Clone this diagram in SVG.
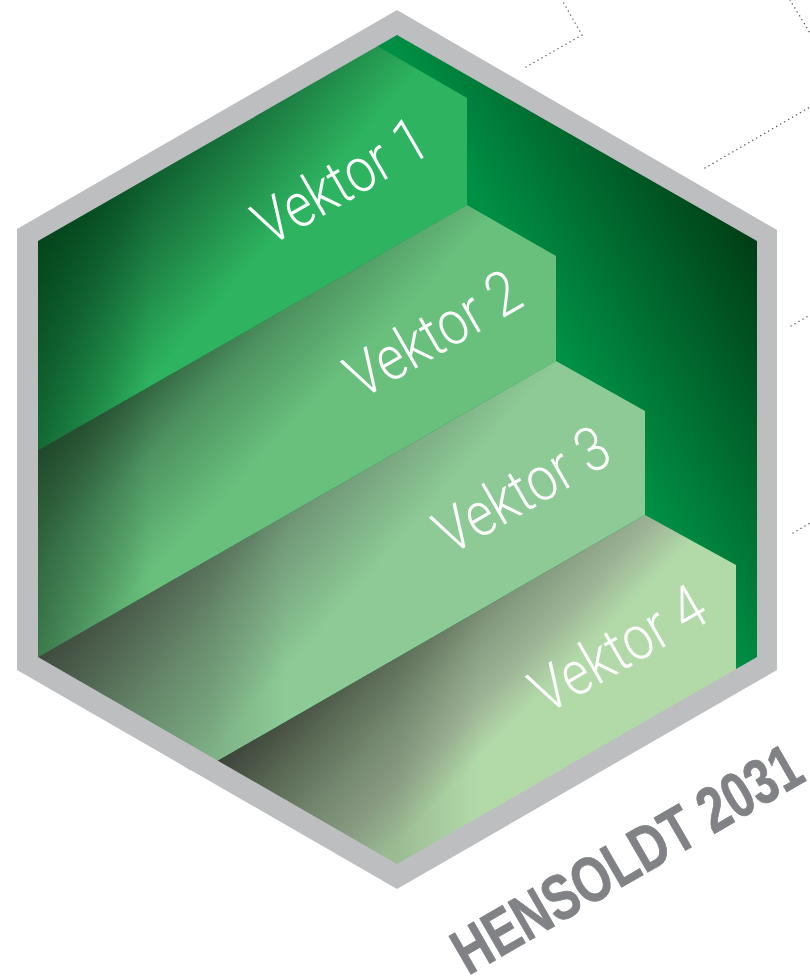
<svg xmlns="http://www.w3.org/2000/svg" width="810" height="980" viewBox="0 0 810 980">
<style>
.lab{font-family:"Roboto","Liberation Sans",sans-serif;font-weight:300;font-size:62px;fill:#fff}
.brand{font-family:"Liberation Sans",sans-serif;font-weight:700;font-size:64px;fill:#808285;stroke:#808285;stroke-width:.8}
.dot{fill:none;stroke:#58595b;stroke-width:1.4;stroke-dasharray:.1 4.5;stroke-linecap:round}
</style>
<defs>
<linearGradient id="gb" gradientUnits="userSpaceOnUse" x1="530" y1="295" x2="727" y2="187"><stop offset="0" stop-color="#009045"/><stop offset="1" stop-color="#003d14"/></linearGradient>
<linearGradient id="g1" gradientUnits="userSpaceOnUse" x1="38" y1="241" x2="173" y2="357"><stop offset="0" stop-color="#03441c"/><stop offset=".5" stop-color="#1b7a40"/><stop offset="1" stop-color="#2eb460"/></linearGradient>
<linearGradient id="g2" gradientUnits="userSpaceOnUse" x1="38" y1="450" x2="159" y2="566"><stop offset="0" stop-color="#22452a"/><stop offset=".5" stop-color="#4d9260"/><stop offset="1" stop-color="#69c07d"/></linearGradient>
<linearGradient id="g3" gradientUnits="userSpaceOnUse" x1="38" y1="657" x2="185" y2="786"><stop offset="0" stop-color="#3f4a3e"/><stop offset=".55" stop-color="#729a78"/><stop offset="1" stop-color="#8dca96"/></linearGradient>
<linearGradient id="g4" gradientUnits="userSpaceOnUse" x1="219" y1="760" x2="352" y2="890"><stop offset="0" stop-color="#3c433a"/><stop offset=".3" stop-color="#66785f"/><stop offset=".55" stop-color="#869c80"/><stop offset=".78" stop-color="#9eb496"/><stop offset="1" stop-color="#b2daa9"/></linearGradient>
<linearGradient id="o1" gradientUnits="userSpaceOnUse" x1="38" y1="0" x2="150" y2="0"><stop offset="0" stop-color="#03441c" stop-opacity=".55"/><stop offset="1" stop-color="#03441c" stop-opacity="0"/></linearGradient>
<linearGradient id="o2" gradientUnits="userSpaceOnUse" x1="38" y1="0" x2="150" y2="0"><stop offset="0" stop-color="#1f4a2b" stop-opacity=".55"/><stop offset="1" stop-color="#1f4a2b" stop-opacity="0"/></linearGradient>
<linearGradient id="o3" gradientUnits="userSpaceOnUse" x1="38" y1="0" x2="285" y2="0"><stop offset="0" stop-color="#3f4a3e" stop-opacity=".35"/><stop offset=".7" stop-color="#3f4a3e" stop-opacity=".2"/><stop offset="1" stop-color="#3f4a3e" stop-opacity="0"/></linearGradient>
<linearGradient id="o4" gradientUnits="userSpaceOnUse" x1="219" y1="0" x2="480" y2="0"><stop offset="0" stop-color="#3c433a" stop-opacity=".3"/><stop offset=".68" stop-color="#3c433a" stop-opacity=".2"/><stop offset="1" stop-color="#3c433a" stop-opacity="0"/></linearGradient>
<polygon id="s1" points="360,36 467,98 467,205 28,456 28,236"/>
<polygon id="s2" points="467,205 556,256 556,361 28,663 28,456"/>
<polygon id="s3" points="556,361 645,411 645,515 200,771 190,770 28,663"/>
<polygon id="s4" points="645,515 736,565 736,675 397,880 200,771"/>
</defs>
<polygon id="back" points="397,20 770,241 770,670 397,880 25,670 25,241" fill="url(#gb)"/>
<g id="connectors">
<path class="dot" d="M526 67L582 35L562 0"/>
<path class="dot" d="M705 168L810 107"/>
<path class="dot" d="M790 0L810 33"/>
<path class="dot" d="M791 326L810 315"/>
<path class="dot" d="M793 533L810 523"/>
</g>
<g id="vektor1">
<use href="#s1" fill="url(#g1)"/><use href="#s1" fill="url(#o1)"/>
<text class="lab" transform="translate(269,247) rotate(-30)" textLength="190" lengthAdjust="spacingAndGlyphs">Vektor 1</text>
</g>
<g id="vektor2">
<use href="#s2" fill="url(#g2)"/><use href="#s2" fill="url(#o2)"/>
<text class="lab" transform="translate(361,400) rotate(-30)" textLength="191" lengthAdjust="spacingAndGlyphs">Vektor 2</text>
</g>
<g id="vektor3">
<use href="#s3" fill="url(#g3)"/><use href="#s3" fill="url(#o3)"/>
<text class="lab" transform="translate(450,556) rotate(-30)" textLength="191" lengthAdjust="spacingAndGlyphs">Vektor 3</text>
</g>
<g id="vektor4">
<use href="#s4" fill="url(#g4)"/><use href="#s4" fill="url(#o4)"/>
<text class="lab" transform="translate(546,715) rotate(-30)" textLength="191" lengthAdjust="spacingAndGlyphs">Vektor 4</text>
</g>
<path id="frame" fill="#bcbec0" fill-rule="evenodd" d="M397 10L777 230L777 670L397 889L17 670L17 229ZM397 35L38 241L38 657L397 864L757 657L757 241Z"/>
<text id="brand" class="brand" transform="translate(468,976) rotate(-30)" textLength="392" lengthAdjust="spacingAndGlyphs">HENSOLDT 2031</text>
</svg>
